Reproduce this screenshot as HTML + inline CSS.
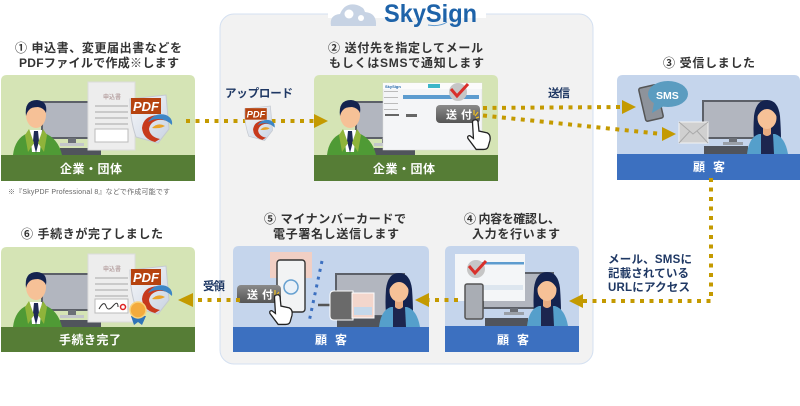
<!DOCTYPE html>
<html lang="ja"><head><meta charset="utf-8"><style>
html,body{margin:0;padding:0;background:#fff}
svg{display:block}
text{font-family:"Liberation Sans","Noto Sans CJK JP",sans-serif}
.t{font-size:12px;font-weight:700;fill:#333}
.l{font-size:11.5px;font-weight:700;fill:#1f3864}
.b{font-size:12px;font-weight:700;fill:#fff}
.d{fill:none;stroke:#c49a00;stroke-width:4;stroke-dasharray:4 5.5}
</style></head><body>
<svg width="800" height="406" viewBox="0 0 800 406" xmlns="http://www.w3.org/2000/svg">
<defs>
<linearGradient id="btng" x1="0" y1="0" x2="0" y2="1"><stop offset="0" stop-color="#8a8a8a"/><stop offset="1" stop-color="#555"/></linearGradient>
<linearGradient id="pg" x1="0" y1="0" x2="1" y2="1"><stop offset="0" stop-color="#f7f8fa"/><stop offset="1" stop-color="#c9d3e2"/></linearGradient>
<g id="man">
<rect x="42" y="-53" width="50" height="36" fill="#b2b6bf" stroke="#5c6068" stroke-width="2"/>
<rect x="68" y="-17" width="8" height="6" fill="#6b6f76"/><rect x="60" y="-12" width="24" height="3" fill="#c3c6ca"/>
<rect x="60" y="-7" width="41" height="7" fill="#50545c"/>
<path d="M13 0Q15-17 28-22L36-25 44-22Q58-17 62 0Z" fill="#4f9a35"/>
<path d="M30-25H42L40 -3H32Z" fill="#fff"/>
<path d="M34-24H38L39-14 36-2 33-14Z" fill="#1e2a55"/>
<path d="M29-26L34-12 28-3 25-20ZM43-26L38-12 44-3 47-20Z" fill="#8fb43a"/>
<ellipse cx="36" cy="-40" rx="10" ry="13" fill="#f6c197"/>
<path d="M26-39Q24-55 37-55 48-54 46-42 44-47 38-48 31-48 29-45 27-43 26-39Z" fill="#14234f"/>
</g>
<g id="woman">
<path d="M-13-14Q-14-24-13-38-11-54 0-54 11-54 13-38 14-24 14-14 7-20 0-20-7-20-13-14Z" fill="#14234f"/>
<path d="M-20 0Q-18-17-8-20L8-20Q18-17 21 0Z" fill="#559fcb"/>
<path d="M-6-20H6L7 0H-6Z" fill="#1d264f"/>
<path d="M-4-26H4V-20Q0-16-4-20Z" fill="#e8ab80"/>
<ellipse cx="0" cy="-36" rx="9.5" ry="11" fill="#f6c197"/>
<path d="M-10-37Q-9-48 0-48 9-48 10-37 6-45 0-45-6-45-10-37Z" fill="#14234f"/>
</g>
<g id="pdf">
<path d="M2 4L38 0 41 34 30 48 8 42Q2 25 2 4Z" fill="url(#pg)" stroke="#c5c9d0"/>
<rect x="3" y="3" width="30" height="16" fill="#b6430f"/>
<text x="5" y="16" font-size="13" font-weight="700" fill="#fff" font-style="italic">PDF</text>
<path d="M14 33Q15 21 30 20 43 21 44 29 38 24 30 25 22 27 21 34 22 42 32 44L27 47Q15 44 14 33Z" fill="#c7391c"/>
<path d="M20 27Q27 17 38 20 45 23 44 30 38 24 30 24 25 24 20 27Z" fill="#3d86c6"/>
<path d="M24 33Q30 27 37 31 32 34 24 33Z" fill="#e9a429"/>
</g>
<g id="doc">
<rect x="0" y="0" width="47" height="68" fill="#ededed" stroke="#dcdcdc"/>
<text x="15" y="17" font-size="6" font-weight="700" fill="#b9a5a5">申込書</text>
<path d="M7 24H40M7 30H40M7 36H40M7 42H40" stroke="#a8a8a8"/>
</g>
<g id="hand">
<path transform="scale(.92)" d="M8 0Q11-1 12 2L13 12 22 14Q26 16 25 22L23 29Q22 32 18 32H10L1 20Q0 17 3 17L7 20 6 3Q6 0 8 0Z" fill="#fff" stroke="#222" stroke-width="1.4"/>
</g>
<g id="btn">
<rect x="0" y="0" width="44" height="18" rx="4" fill="url(#btng)"/>
<text x="10" y="13.5" font-size="11" font-weight="700" fill="#fff" letter-spacing="4">送付</text>
<path d="M38 5V10M42 7L39 11M43 12L40 13" stroke="#f0c020" stroke-width="1.2"/>
</g>
<g id="check">
<circle cx="0" cy="0" r="9" fill="#c6c6c6"/>
<path d="M-7-3L-1 4 10-8" fill="none" stroke="#d9302a" stroke-width="3"/>
</g>
<g id="ui">
<rect width="99" height="67" fill="#f4f5f7" stroke="#ddd" stroke-width=".5"/>
<rect width="99" height="6" fill="#fbfbfb"/>
<rect x="45" y="1" width="12" height="4" fill="#3bb6c8"/>
<rect x="1" y="8" width="14" height="1" fill="#bbb"/><rect x="1" y="14" width="14" height="1" fill="#bbb"/><rect x="1" y="20" width="14" height="1" fill="#bbb"/><rect x="1" y="26" width="14" height="1" fill="#bbb"/>
<rect x="20" y="12" width="76" height="4" fill="#5d9ccf"/>
<rect x="2" y="31" width="14" height="2" fill="#666"/>
<rect x="23" y="31" width="11" height="3" fill="#666"/>
<text x="2" y="5" font-size="4" font-weight="700" fill="#1f64a8">SkySign</text>
</g>
</defs>
<rect width="800" height="406" fill="#fff"/>

<!-- central panel -->
<rect x="220" y="14" width="373" height="350" rx="14" fill="#f2f2f2" stroke="#d4e0f1"/>
<rect x="328" y="8" width="158" height="10" fill="#fff"/>
<path d="M331 26Q329 15 340 14 345 2 357 5 364 7 365 12 377 13 376 26Z" fill="#c7d3e4"/>
<g fill="#fff"><circle cx="349" cy="14" r="4.5"/><circle cx="361" cy="18" r="3"/></g>
<text x="384" y="22" font-size="25" font-weight="700" fill="#1e63a9" textLength="93" lengthAdjust="spacingAndGlyphs">SkySign</text>
<path d="M428 25Q440 27 447 22" fill="none" stroke="#5f9ad0" stroke-width="1"/>

<!-- cards -->
<path d="M1 155V81Q1 75 7 75H189Q195 75 195 81V155Z" fill="#d5e4b5"/><rect x="1" y="155" width="194" height="26" fill="#567d36"/>
<path d="M314 155V81Q314 75 320 75H492Q498 75 498 81V155Z" fill="#d5e4b5"/><rect x="314" y="155" width="184" height="26" fill="#567d36"/>
<path d="M617 154V81Q617 75 623 75H794Q800 75 800 81V154Z" fill="#c5d5ec"/><rect x="617" y="154" width="183" height="26" fill="#3c70c0"/>
<path d="M445 326V252Q445 246 451 246H573Q579 246 579 252V326Z" fill="#c5d5ec"/><rect x="445" y="326" width="134" height="26" fill="#3c70c0"/>
<path d="M233 327V252Q233 246 239 246H423Q429 246 429 252V327Z" fill="#c5d5ec"/><rect x="233" y="327" width="196" height="25" fill="#3c70c0"/>
<path d="M1 327V253Q1 247 7 247H189Q195 247 195 253V327Z" fill="#d5e4b5"/><rect x="1" y="327" width="194" height="25" fill="#567d36"/>

<!-- card 1 -->
<use href="#man" x="0" y="155"/>
<use href="#doc" x="88" y="82"/><rect x="95" y="129" width="33" height="13" fill="#fff" stroke="#bbb"/>
<use href="#pdf" x="128" y="95"/>

<!-- card 2 -->
<use href="#man" transform="translate(314 155)"/>
<use href="#ui" x="383" y="83"/>
<use href="#check" x="458" y="92"/>
<use href="#btn" x="436" y="105"/>
<use href="#hand" x="467" y="120"/>

<!-- card 3 -->
<rect x="703" y="101" width="64" height="37" fill="#b2b6bf" stroke="#5c6068" stroke-width="2"/>
<rect x="729" y="138" width="8" height="5" fill="#6b6f76"/><rect x="723" y="142" width="20" height="3" fill="#9aa0a8"/>
<rect x="704" y="146" width="44" height="8" fill="#50545c"/>
<use href="#woman" x="767" y="154"/>
<rect x="642" y="86" width="18" height="34" rx="2" fill="#8e939b" stroke="#555" stroke-width="1.5" transform="rotate(-13 651 103)"/>
<ellipse cx="668" cy="94" rx="20" ry="13" fill="#5b9cc0"/>
<path d="M654 103L652 113 664 106Z" fill="#5b9cc0"/>
<text x="656" y="99" font-size="10.5" font-weight="700" fill="#fff">SMS</text>
<rect x="679" y="122" width="29" height="21" fill="#d0d0d0" stroke="#f2f2f2"/>
<path d="M679 122L693 134 708 122M679 143L690 131M708 143L697 131" fill="none" stroke="#aaa"/>

<!-- card 4 -->
<rect x="483" y="273" width="70" height="35" fill="#b2b6bf" stroke="#5c6068" stroke-width="2"/>
<rect x="510" y="308" width="8" height="5" fill="#6b6f76"/><rect x="504" y="312" width="20" height="3" fill="#9aa0a8"/>
<rect x="485" y="318" width="43" height="8" fill="#50545c"/>
<rect x="455" y="254" width="70" height="47" fill="#f4f6f8"/>
<rect x="476" y="262" width="48" height="2.5" fill="#5d9ccf"/>
<rect x="483" y="285" width="40" height="5" fill="#dde6ef"/>
<use href="#check" x="476" y="269"/>
<rect x="465" y="284" width="18" height="35" rx="2" fill="#a9adb4" stroke="#555" stroke-width="1.5"/>
<use href="#woman" x="547" y="326"/>

<!-- card 5 -->
<rect x="336" y="274" width="68" height="42" fill="#b2b6bf" stroke="#5c6068" stroke-width="2"/>
<rect x="337" y="316" width="50" height="11" fill="#50545c"/>
<use href="#woman" x="399" y="327"/>
<rect x="270" y="252" width="42" height="26" fill="#f1cfc4"/>
<rect x="277" y="260" width="28" height="52" rx="3" fill="#f2f3f4" stroke="#333" stroke-width="1.4"/>
<circle cx="291" cy="287" r="7" fill="#eaf1f8" stroke="#66a0d0" stroke-width="1.5"/>
<path d="M322 261L309 322" fill="none" stroke="#3c70c0" stroke-width="3" stroke-dasharray="3 5"/>
<path d="M318 305H332" stroke="#555" stroke-width="2.5"/>
<path d="M334 291H353V320H334Q330 320 330 316V295Q330 291 334 291Z" fill="#6a6a6a" stroke="#fff"/>
<rect x="352" y="293" width="22" height="25" fill="#f3d6cc" stroke="#fff"/>
<rect x="354" y="307" width="18" height="8" fill="#c5d8ea"/>
<use href="#btn" x="237" y="285"/>
<use href="#hand" x="269" y="295"/>

<!-- card 6 -->
<use href="#man" x="0" y="327"/>
<use href="#doc" x="88" y="254"/><rect x="95" y="299" width="33" height="14" fill="#fff" stroke="#bbb"/>
<path d="M99 309Q104 300 106 306T113 306 118 307" fill="none" stroke="#333"/>
<circle cx="123" cy="307" r="2.5" fill="none" stroke="#d22" stroke-width="1.5"/>
<use href="#pdf" x="128" y="266"/>
<path d="M131 316L134 325 138 322 142 325 146 316Z" fill="#2f74b8"/>
<circle cx="138" cy="310" r="8" fill="#f4ab3c" stroke="#f8d27c" stroke-width="1.5"/>

<!-- connectors -->
<path class="d" d="M186 121H314"/><path d="M314 114L328 121 314 128Z" fill="#c49a00"/>
<use href="#pdf" transform="translate(243 106) scale(.72)"/>
<path class="d" d="M483 108L622 107"/><path d="M622 100L636 107 622 114Z" fill="#c49a00"/>
<path class="d" d="M483 115.5L662 134"/><path d="M662 127L676 134 662 141Z" fill="#c49a00"/>
<path class="d" d="M711 178V301H583"/><path d="M583 294L569 301 583 308Z" fill="#c49a00"/>
<path class="d" d="M458 300H429"/><path d="M429 293L415 300 429 307Z" fill="#c49a00"/>
<path class="d" d="M240 300H193"/><path d="M193 293L178 300 193 307Z" fill="#c49a00"/>

<!-- titles -->
<text class="t" x="15" y="52" textLength="167" lengthAdjust="spacing">① 申込書、変更届出書などを</text>
<text class="t" x="19" y="67" textLength="160" lengthAdjust="spacing">PDFファイルで作成※します</text>
<text class="t" x="328" y="52" textLength="155" lengthAdjust="spacing">② 送付先を指定してメール</text>
<text class="t" x="329" y="67" textLength="155" lengthAdjust="spacing">もしくはSMSで通知します</text>
<text class="t" x="663" y="67" textLength="92" lengthAdjust="spacing">③ 受信しました</text>
<text class="t" x="464" y="223" textLength="96" lengthAdjust="spacing">④ 内容を確認し、</text>
<text class="t" x="472" y="238" textLength="88" lengthAdjust="spacing">入力を行います</text>
<text class="t" x="264" y="223" textLength="142" lengthAdjust="spacing">⑤ マイナンバーカードで</text>
<text class="t" x="273" y="238" textLength="126" lengthAdjust="spacing">電子署名し送信します</text>
<text class="t" x="21" y="238" textLength="142" lengthAdjust="spacing">⑥ 手続きが完了しました</text>

<!-- connector labels -->
<text class="l" x="225" y="97" textLength="68" lengthAdjust="spacing">アップロード</text>
<text class="l" x="548" y="97" textLength="22" lengthAdjust="spacing">送信</text>
<text class="l" x="203" y="290" textLength="22" lengthAdjust="spacing">受領</text>
<text class="l" x="608" y="263" textLength="84" lengthAdjust="spacing">メール、SMSに</text>
<text class="l" x="608" y="277" textLength="81" lengthAdjust="spacing">記載されている</text>
<text class="l" x="608" y="291" textLength="82" lengthAdjust="spacing">URLにアクセス</text>

<!-- band labels -->
<text class="b" x="60" y="173" textLength="62" lengthAdjust="spacing">企業・団体</text>
<text class="b" x="373" y="173" textLength="62" lengthAdjust="spacing">企業・団体</text>
<text class="b" x="693" y="171" textLength="32" lengthAdjust="spacing">顧 客</text>
<text class="b" x="497" y="344" textLength="32" lengthAdjust="spacing">顧 客</text>
<text class="b" x="315" y="344" textLength="32" lengthAdjust="spacing">顧 客</text>
<text class="b" x="59" y="344" textLength="62" lengthAdjust="spacing">手続き完了</text>

<text x="8" y="194" font-size="7" fill="#666" textLength="162" lengthAdjust="spacing">※『SkyPDF Professional 8』などで作成可能です</text>
</svg>
</body></html>
